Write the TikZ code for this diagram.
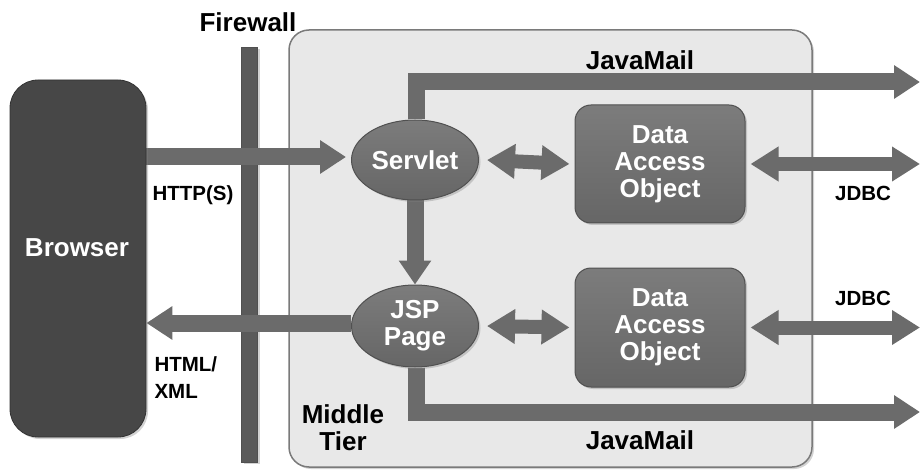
\documentclass[tikz,border=0pt]{standalone}
\usepackage{fontspec}
\setmainfont{Liberation Sans}
\usetikzlibrary{arrows.meta,shapes.geometric,shadows,calc}

\definecolor{arrowgray}{HTML}{6B6B6B}
\definecolor{boxtop}{HTML}{7C7C7C}
\definecolor{boxbottom}{HTML}{666666}
\definecolor{boxedge}{HTML}{505050}
\definecolor{browsergray}{HTML}{474747}
\definecolor{wallgray}{HTML}{5A5A5A}
\definecolor{tierfill}{HTML}{E8E8E8}
\definecolor{tieredge}{HTML}{7A7A7A}

\pgfdeclarelayer{bg}
\pgfdeclarelayer{links}
\pgfsetlayers{bg,links,main}

\tikzset{
  softshadow/.style={drop shadow={opacity=0.35,shadow xshift=2pt,shadow yshift=-2pt}},
  bigtext/.style={font=\fontsize{26}{27}\selectfont\bfseries},
  smalltext/.style={font=\fontsize{20.5}{27}\selectfont\bfseries},
  tierbox/.style={draw=tieredge,line width=1.5pt,fill=tierfill,rounded corners=20pt,softshadow},
  wall/.style={draw=boxedge,line width=0.8pt,fill=wallgray,softshadow},
  browserbox/.style={draw=black!80,line width=0.8pt,fill=browsergray,rounded corners=28pt,softshadow},
  comp/.style={ellipse,draw=boxedge,line width=1pt,top color=boxtop,bottom color=boxbottom,
    inner sep=0pt,softshadow,bigtext,text=white,align=center},
  daobox/.style={draw=boxedge,line width=1pt,top color=boxtop,bottom color=boxbottom,
    rounded corners=16pt,softshadow,bigtext,text=white,align=center},
  fat/.style={draw=arrowgray,line width=17pt,line join=miter,
    -{Triangle[length=26pt,width=32pt]}},
  dbl/.style={draw=arrowgray,line width=14pt,
    {Triangle[length=28pt,width=33pt]}-{Triangle[length=28pt,width=33pt]}},
}

\begin{document}
\begin{tikzpicture}[x=1pt,y=-1pt]
\useasboundingbox (0,0) rectangle (920,470);

% middle tier and firewall
\begin{pgfonlayer}{bg}
  \node[tierbox,minimum width=523pt,minimum height=437pt] (tier) at (550.5,248.5) {};
  \node[wall,minimum width=16pt,minimum height=415pt,inner sep=0pt] (fw) at (249.5,254.5) {};
\end{pgfonlayer}

% client
\node[browserbox,minimum width=136pt,minimum height=357pt] (browser) at (78,258.5) {};
\node[bigtext,text=white] (browsertxt) at (77,248) {Browser};

% web components
\node[comp,minimum width=127pt,minimum height=80pt] (servlet) at (415,160) {Servlet};
\node[comp,minimum width=127pt,minimum height=82pt] (jsp) at (415,326) {JSP\\Page};

% data access objects
\node[daobox,minimum width=170pt,minimum height=118pt] (dao1) at (660,164) {Data\\Access\\Object};
\node[daobox,minimum width=170pt,minimum height=119pt] (dao2) at (660,327.5) {Data\\Access\\Object};

% free ends on the right edge
\coordinate (mailtop) at (920,82);
\coordinate (mailbot) at (920,412);
\coordinate (jdbctop) at (920,164);
\coordinate (jdbcbot) at (920,327.5);

\begin{pgfonlayer}{links}
  \draw[fat] ([yshift=3pt]browser.east |- servlet.west) -- ([xshift=-5pt,yshift=3pt]servlet.west);
  \draw[fat] ([yshift=3pt]jsp.west) -- ([yshift=3pt]browser.east |- jsp.west);
  \draw[fat,-{Triangle[length=24pt,width=31pt]}] (servlet.south) -- (jsp.north);
  \draw[fat] ([xshift=1pt]servlet.north) |- (mailtop);
  \draw[fat] ([xshift=1pt]jsp.south) |- (mailbot);
  \draw[dbl] ([xshift=8pt]servlet.east) -- ([xshift=-5pt]dao1.west);
  \draw[dbl] ([xshift=8pt]jsp.east) -- ([xshift=-5pt]dao2.west);
  \draw[dbl] ([xshift=5pt]dao1.east) -- (jdbctop);
  \draw[dbl] ([xshift=5pt]dao2.east) -- (jdbcbot);
\end{pgfonlayer}

% labels
\node[bigtext] (fwlabel) at (248,22) {Firewall};
\node[smalltext] (httplabel) at (193,195) {HTTP(S)};
\node[smalltext,align=left,anchor=west] (htmllabel) at (151,378) {HTML/\\XML};
\node[bigtext] (mailtoplabel) at (640,60) {JavaMail};
\node[bigtext] (mailbotlabel) at (640,440) {JavaMail};
\node[smalltext] (jdbctoplabel) at (863,193) {JDBC};
\node[smalltext] (jdbcbotlabel) at (863,298) {JDBC};
\node[bigtext,align=center] (tierlabel) at (343,428) {Middle\\Tier};
\end{tikzpicture}
\end{document}
